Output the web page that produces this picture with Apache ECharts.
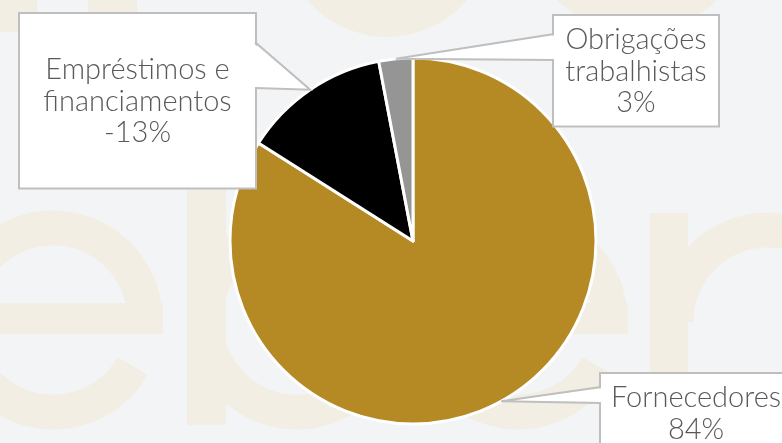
<!DOCTYPE html>
<html><head><meta charset="utf-8">
<script src="https://cdn.jsdelivr.net/npm/echarts@6/dist/echarts.min.js"></script>
<style>html,body{margin:0;padding:0;background:#F3F4F6}#c{width:782px;height:443px}</style>
</head><body><div id="c"></div><script>
// ---- data ----
const categories = ['Fornecedores', 'Empréstimos e\nfinanciamentos', 'Obrigações\ntrabalhistas'];
const values = [84, -13, 3];          // percent shares as shown
const colors = ['#B58A25', '#000000', '#959595'];

// ---- layout (label boxes and callout openings) ----
const boxes = [
  {x: 601, y: 374, w: 190, pad: [8, 0, 8, 0], side: -1, e1: [601, 387], e2: [601, 403]},
  {x: 20,  y: 14,  w: 235, pad: [40, 0, 39, 0], side: 1, e1: [255, 42], e2: [255, 88]},
  {x: 554, y: 16,  w: 164, pad: [8, 0, 7, 0], side: -1, e1: [554, 34], e2: [554, 60]}
];
const BORDER = '#BFBFBF';

// ---- faint watermark (decoration) ----
const wm = '#F2EEE3';
const D = Math.PI / 180;
function ring(cx, cy, r, a0, a1) {
  return {type: 'arc', silent: true, z: -10,
    shape: {cx: cx, cy: cy, r: r, startAngle: a0 * D, endAngle: a1 * D, clockwise: true},
    style: {stroke: wm, lineWidth: 35, fill: null}};
}
function box(x, y, w, h) {
  return {type: 'rect', silent: true, z: -10, shape: {x: x, y: y, width: w, height: h}, style: {fill: wm}};
}
function disc(cx, cy, r) {
  return {type: 'circle', silent: true, z: -10, shape: {cx: cx, cy: cy, r: r}, style: {fill: wm}};
}
const watermark = [
  ring(53, 320, 92, 30, 360), box(-60, 303, 223, 31),      // e
  box(187, 100, 39, 325), ring(297, 320, 92, 0, 360),     // b
  ring(518, 320, 92, 30, 360), box(408, 303, 220, 31),     // e
  box(650, 213, 38, 260), ring(768, 322, 92, 180, 320),   // r
  disc(387, -67, 104), disc(637, -80, 113),
  box(0, 0, 37, 32), box(88, 0, 49, 14)
];

const chart = echarts.init(document.getElementById('c'), null, {renderer: 'canvas'});
chart.setOption({
  backgroundColor: '#F3F4F6',
  animation: false,
  graphic: {elements: watermark},
  series: [{
    type: 'pie',
    center: [413, 241],
    radius: 183,
    startAngle: 90,
    clockwise: true,
    avoidLabelOverlap: false,
    itemStyle: {borderColor: '#FFFFFF', borderWidth: 3},
    label: {
      show: true,
      position: 'outside',
      fontFamily: 'Lato',
      fontWeight: 300,
      fontSize: 29,
      lineHeight: 31.5,
      color: '#595959',
      backgroundColor: '#FFFFFF',
      borderColor: BORDER,
      borderWidth: 2,
      align: 'center'
    },
    labelLine: {show: false},
    labelLayout: function (p) {
      const b = boxes[p.dataIndex];
      return {x: b.x + b.w / 2, y: b.y, align: 'center', verticalAlign: 'top'};
    },
    data: categories.map(function (c, i) {
      const b = boxes[i];
      return {
        name: c,
        value: Math.abs(values[i]),
        itemStyle: {color: colors[i]},
        label: {formatter: c + '\n' + values[i] + '%', width: b.w, padding: b.pad}
      };
    })
  }]
});

// callouts: tip at the middle of each slice edge
const sData = chart.getModel().getSeriesByIndex(0).getData();
const callouts = [];
boxes.forEach(function (b, i) {
  const L = sData.getItemLayout(i);
  const mid = (L.startAngle + L.endAngle) / 2;
  const tip = [L.cx + L.r * Math.cos(mid), L.cy + L.r * Math.sin(mid)];
  const inset = -b.side * 2;
  callouts.push({type: 'polygon', silent: true, z: 50,
    shape: {points: [[b.e1[0] + inset, b.e1[1] + 1], tip, [b.e2[0] + inset, b.e2[1] - 1]]},
    style: {fill: '#FFFFFF'}});
  callouts.push({type: 'polyline', silent: true, z: 51,
    shape: {points: [b.e1, tip, b.e2]},
    style: {stroke: BORDER, lineWidth: 2, fill: null}});
});
chart.setOption({graphic: {elements: watermark.concat(callouts)}}, {replaceMerge: ['graphic']});
</script></body></html>
